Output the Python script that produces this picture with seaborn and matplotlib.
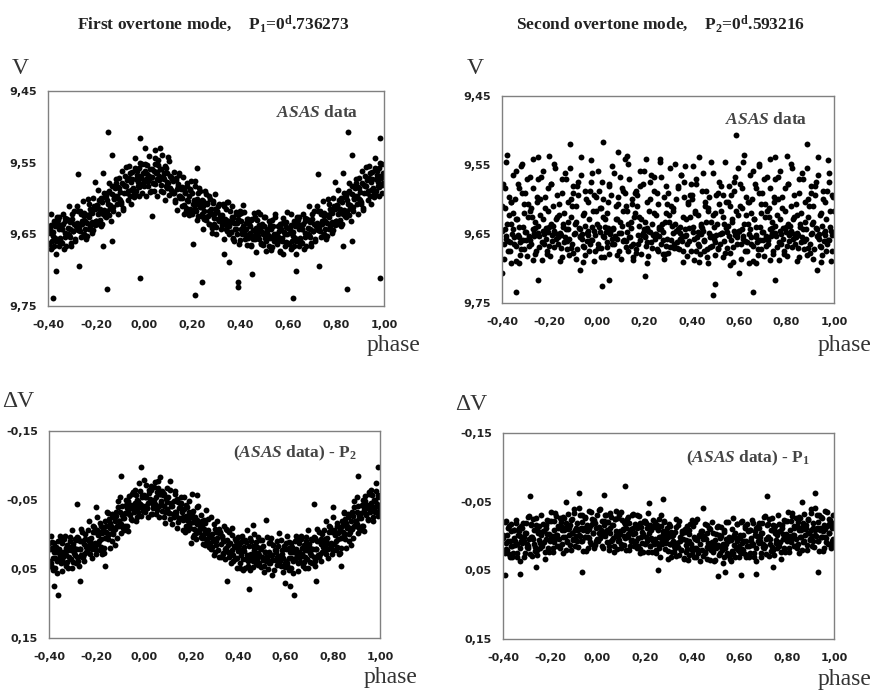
import numpy as np
import pandas as pd
import matplotlib
matplotlib.use('Agg')
import matplotlib.pyplot as plt
import seaborn as sns
from matplotlib.ticker import FuncFormatter, MultipleLocator

# phases of the observations (0..1); points at phase > 0.6 are repeated at phase-1
phase = [
    0.001, 0.005, 0.008, 0.012, 0.016, 0.019, 0.024, 0.027, 0.032, 0.036,
    0.041, 0.044, 0.048, 0.053, 0.056, 0.060, 0.064, 0.069, 0.072, 0.077,
    0.080, 0.085, 0.088, 0.092, 0.097, 0.100, 0.104, 0.109, 0.112, 0.117,
    0.121, 0.124, 0.129, 0.132, 0.137, 0.140, 0.145, 0.148, 0.152, 0.157,
    0.160, 0.165, 0.168, 0.173, 0.176, 0.181, 0.184, 0.188, 0.193, 0.197,
    0.201, 0.204, 0.209, 0.212, 0.216, 0.221, 0.224, 0.228, 0.233, 0.236,
    0.241, 0.245, 0.248, 0.252, 0.257, 0.260, 0.264, 0.269, 0.272, 0.277,
    0.280, 0.284, 0.289, 0.292, 0.297, 0.300, 0.305, 0.308, 0.312, 0.317,
    0.321, 0.324, 0.328, 0.333, 0.336, 0.341, 0.344, 0.349, 0.352, 0.356,
    0.361, 0.364, 0.368, 0.373, 0.376, 0.380, 0.385, 0.388, 0.393, 0.397,
    0.400, 0.404, 0.409, 0.412, 0.417, 0.420, 0.425, 0.428, 0.432, 0.437,
    0.441, 0.444, 0.448, 0.453, 0.456, 0.461, 0.464, 0.468, 0.473, 0.476,
    0.480, 0.485, 0.488, 0.492, 0.497, 0.500, 0.504, 0.509, 0.512, 0.516,
    0.521, 0.524, 0.529, 0.532, 0.536, 0.541, 0.544, 0.548, 0.553, 0.557,
    0.560, 0.565, 0.568, 0.572, 0.577, 0.580, 0.584, 0.589, 0.592, 0.597,
    0.601, 0.604, 0.608, 0.613, 0.616, 0.621, 0.624, 0.628, 0.633, 0.636,
    0.640, 0.645, 0.648, 0.652, 0.657, 0.660, 0.664, 0.669, 0.672, 0.677,
    0.681, 0.684, 0.688, 0.693, 0.696, 0.700, 0.705, 0.708, 0.712, 0.717,
    0.720, 0.724, 0.729, 0.732, 0.737, 0.740, 0.744, 0.749, 0.752, 0.756,
    0.761, 0.764, 0.768, 0.773, 0.776, 0.781, 0.784, 0.788, 0.793, 0.796,
    0.800, 0.805, 0.808, 0.812, 0.817, 0.820, 0.824, 0.829, 0.832, 0.837,
    0.841, 0.844, 0.848, 0.853, 0.856, 0.860, 0.865, 0.868, 0.872, 0.877,
    0.880, 0.884, 0.889, 0.892, 0.897, 0.901, 0.904, 0.908, 0.913, 0.916,
    0.920, 0.925, 0.928, 0.933, 0.936, 0.940, 0.945, 0.948, 0.952, 0.957,
    0.961, 0.964, 0.968, 0.972, 0.977, 0.980, 0.985, 0.988, 0.993, 0.997,
]
phase_b = [
    0.003, 0.006, 0.010, 0.014, 0.018, 0.021, 0.026, 0.030, 0.033, 0.038,
    0.042, 0.047, 0.051, 0.053, 0.057, 0.062, 0.065, 0.069, 0.074, 0.079,
    0.083, 0.086, 0.090, 0.094, 0.098, 0.101, 0.106, 0.110, 0.113, 0.118,
    0.122, 0.127, 0.131, 0.133, 0.137, 0.142, 0.145, 0.149, 0.154, 0.159,
    0.163, 0.166, 0.170, 0.174, 0.178, 0.181, 0.186, 0.190, 0.193, 0.198,
    0.202, 0.207, 0.211, 0.213, 0.217, 0.222, 0.225, 0.229, 0.234, 0.239,
    0.243, 0.246, 0.250, 0.254, 0.258, 0.261, 0.266, 0.270, 0.273, 0.278,
    0.282, 0.287, 0.291, 0.293, 0.297, 0.302, 0.305, 0.309, 0.314, 0.319,
    0.323, 0.326, 0.330, 0.334, 0.338, 0.341, 0.346, 0.350, 0.353, 0.358,
    0.362, 0.367, 0.371, 0.373, 0.377, 0.382, 0.385, 0.389, 0.394, 0.399,
    0.403, 0.406, 0.410, 0.414, 0.418, 0.421, 0.426, 0.430, 0.433, 0.438,
    0.442, 0.447, 0.451, 0.453, 0.457, 0.462, 0.465, 0.469, 0.474, 0.479,
    0.483, 0.486, 0.490, 0.494, 0.498, 0.501, 0.506, 0.510, 0.513, 0.518,
    0.522, 0.527, 0.531, 0.533, 0.537, 0.542, 0.545, 0.549, 0.554, 0.559,
    0.563, 0.566, 0.570, 0.574, 0.578, 0.581, 0.586, 0.590, 0.593, 0.598,
    0.602, 0.607, 0.611, 0.613, 0.617, 0.622, 0.625, 0.629, 0.634, 0.639,
    0.643, 0.646, 0.650, 0.654, 0.658, 0.661, 0.666, 0.670, 0.673, 0.678,
    0.682, 0.687, 0.691, 0.693, 0.697, 0.702, 0.705, 0.709, 0.714, 0.719,
    0.723, 0.726, 0.730, 0.734, 0.738, 0.741, 0.746, 0.750, 0.753, 0.758,
    0.762, 0.767, 0.771, 0.773, 0.777, 0.782, 0.785, 0.789, 0.794, 0.799,
    0.803, 0.806, 0.810, 0.814, 0.818, 0.821, 0.826, 0.830, 0.833, 0.838,
    0.842, 0.847, 0.851, 0.853, 0.857, 0.862, 0.865, 0.869, 0.874, 0.879,
    0.883, 0.886, 0.890, 0.894, 0.898, 0.901, 0.906, 0.910, 0.913, 0.918,
    0.922, 0.927, 0.931, 0.933, 0.937, 0.942, 0.945, 0.949, 0.954, 0.959,
    0.963, 0.966, 0.970, 0.974, 0.978, 0.981, 0.986, 0.990, 0.993, 0.998,
]

# top left: V, first overtone phase
v_first = [
    9.582, 9.562, 9.573, 9.553, 9.576, 9.568, 9.591, 9.559, 9.570, 9.579,
    9.561, 9.544, 9.580, 9.563, 9.573, 9.553, 9.568, 9.590, 9.559, 9.571,
    9.591, 9.573, 9.555, 9.582, 9.565, 9.578, 9.548, 9.585, 9.570, 9.589,
    9.576, 9.592, 9.605, 9.571, 9.587, 9.580, 9.596, 9.565, 9.599, 9.584,
    9.600, 9.622, 9.585, 9.593, 9.613, 9.579, 9.604, 9.596, 9.588, 9.617,
    9.592, 9.608, 9.615, 9.583, 9.617, 9.601, 9.624, 9.606, 9.590, 9.612,
    9.622, 9.603, 9.611, 9.629, 9.594, 9.626, 9.607, 9.618, 9.636, 9.601,
    9.621, 9.641, 9.606, 9.627, 9.614, 9.649, 9.618, 9.610, 9.632, 9.623,
    9.643, 9.623, 9.631, 9.610, 9.636, 9.615, 9.645, 9.632, 9.605, 9.638,
    9.633, 9.647, 9.626, 9.657, 9.634, 9.642, 9.619, 9.649, 9.629, 9.621,
    9.658, 9.631, 9.645, 9.639, 9.619, 9.650, 9.642, 9.628, 9.655, 9.636,
    9.638, 9.667, 9.630, 9.652, 9.644, 9.626, 9.656, 9.641, 9.650, 9.619,
    9.656, 9.644, 9.663, 9.635, 9.650, 9.639, 9.626, 9.660, 9.645, 9.654,
    9.632, 9.655, 9.643, 9.668, 9.638, 9.649, 9.657, 9.626, 9.651, 9.660,
    9.654, 9.636, 9.673, 9.643, 9.660, 9.634, 9.647, 9.667, 9.640, 9.649,
    9.641, 9.664, 9.648, 9.637, 9.668, 9.652, 9.631, 9.655, 9.660, 9.626,
    9.659, 9.642, 9.626, 9.655, 9.643, 9.662, 9.636, 9.648, 9.632, 9.667,
    9.628, 9.641, 9.651, 9.633, 9.662, 9.621, 9.645, 9.635, 9.657, 9.639,
    9.640, 9.617, 9.637, 9.646, 9.622, 9.631, 9.653, 9.625, 9.620, 9.643,
    9.623, 9.634, 9.601, 9.626, 9.639, 9.619, 9.633, 9.644, 9.610, 9.615,
    9.632, 9.609, 9.622, 9.602, 9.615, 9.639, 9.605, 9.621, 9.616, 9.598,
    9.596, 9.617, 9.602, 9.623, 9.589, 9.609, 9.583, 9.615, 9.612, 9.600,
    9.596, 9.573, 9.607, 9.584, 9.601, 9.591, 9.605, 9.579, 9.613, 9.581,
    9.569, 9.583, 9.574, 9.590, 9.555, 9.597, 9.577, 9.588, 9.563, 9.594,
    9.592, 9.557, 9.573, 9.562, 9.577, 9.584, 9.551, 9.568, 9.581, 9.565,
]
v_first_b = [
    9.552, 9.576, 9.597, 9.566, 9.583, 9.541, 9.572, 9.589, 9.559, 9.579,
    9.589, 9.552, 9.564, 9.597, 9.546, 9.574, 9.559, 9.581, 9.540, 9.570,
    9.565, 9.602, 9.557, 9.577, 9.585, 9.542, 9.595, 9.569, 9.588, 9.573,
    9.593, 9.563, 9.602, 9.574, 9.616, 9.583, 9.567, 9.596, 9.587, 9.611,
    9.570, 9.609, 9.591, 9.617, 9.582, 9.602, 9.623, 9.587, 9.614, 9.575,
    9.621, 9.602, 9.576, 9.615, 9.608, 9.630, 9.593, 9.585, 9.612, 9.624,
    9.602, 9.643, 9.618, 9.589, 9.630, 9.606, 9.625, 9.636, 9.597, 9.615,
    9.648, 9.603, 9.635, 9.622, 9.594, 9.640, 9.619, 9.629, 9.608, 9.632,
    9.624, 9.637, 9.608, 9.656, 9.628, 9.643, 9.605, 9.632, 9.649, 9.618,
    9.647, 9.610, 9.655, 9.627, 9.659, 9.621, 9.642, 9.634, 9.664, 9.618,
    9.620, 9.643, 9.650, 9.609, 9.647, 9.657, 9.634, 9.665, 9.628, 9.653,
    9.648, 9.665, 9.628, 9.656, 9.620, 9.645, 9.674, 9.630, 9.652, 9.637,
    9.621, 9.662, 9.647, 9.638, 9.665, 9.626, 9.655, 9.673, 9.643, 9.651,
    9.666, 9.637, 9.672, 9.630, 9.653, 9.659, 9.621, 9.650, 9.663, 9.639,
    9.646, 9.674, 9.636, 9.655, 9.627, 9.677, 9.649, 9.633, 9.661, 9.619,
    9.662, 9.642, 9.671, 9.621, 9.659, 9.647, 9.666, 9.639, 9.678, 9.634,
    9.630, 9.666, 9.637, 9.661, 9.642, 9.621, 9.670, 9.654, 9.627, 9.649,
    9.649, 9.610, 9.654, 9.642, 9.666, 9.628, 9.645, 9.617, 9.659, 9.634,
    9.611, 9.644, 9.640, 9.618, 9.654, 9.636, 9.604, 9.649, 9.632, 9.657,
    9.653, 9.623, 9.607, 9.642, 9.615, 9.648, 9.620, 9.599, 9.637, 9.631,
    9.609, 9.635, 9.588, 9.620, 9.630, 9.599, 9.636, 9.617, 9.593, 9.625,
    9.626, 9.592, 9.608, 9.578, 9.613, 9.631, 9.594, 9.618, 9.601, 9.586,
    9.578, 9.597, 9.621, 9.586, 9.571, 9.602, 9.607, 9.561, 9.616, 9.592,
    9.582, 9.556, 9.592, 9.602, 9.571, 9.564, 9.607, 9.573, 9.586, 9.598,
    9.543, 9.589, 9.567, 9.583, 9.597, 9.558, 9.571, 9.592, 9.552, 9.579,
]
out1_phase = [0.849, 0.620, 0.982, 0.982, 0.212, 0.240, 0.390, 0.391, 0.451, 0.844,
              0.730, 0.633, 0.206, 0.032, 0.727, 0.830, 0.795, 0.004, 0.046, 0.068,
              0.868, 0.831, 0.865, 0.220, 0.335, 0.355]
out1_v = [9.507, 9.739, 9.516, 9.711, 9.735, 9.716, 9.717, 9.724, 9.705, 9.727,
          9.694, 9.701, 9.664, 9.625, 9.566, 9.564, 9.577, 9.530, 9.532, 9.530,
          9.539, 9.667, 9.660, 9.558, 9.678, 9.688]

# top right: V, second overtone phase
v_second = [
    9.635, 9.670, 9.587, 9.647, 9.612, 9.684, 9.625, 9.600, 9.655, 9.640,
    9.662, 9.619, 9.641, 9.577, 9.650, 9.593, 9.665, 9.643, 9.561, 9.653,
    9.628, 9.657, 9.606, 9.674, 9.632, 9.648, 9.584, 9.660, 9.616, 9.590,
    9.669, 9.609, 9.647, 9.635, 9.571, 9.655, 9.641, 9.600, 9.664, 9.625,
    9.619, 9.677, 9.593, 9.652, 9.638, 9.580, 9.658, 9.628, 9.648, 9.558,
    9.655, 9.632, 9.667, 9.603, 9.645, 9.616, 9.574, 9.662, 9.635, 9.652,
    9.587, 9.650, 9.622, 9.672, 9.606, 9.640, 9.653, 9.568, 9.643, 9.658,
    9.647, 9.596, 9.679, 9.619, 9.657, 9.590, 9.632, 9.669, 9.609, 9.638,
    9.612, 9.664, 9.635, 9.600, 9.670, 9.643, 9.580, 9.648, 9.657, 9.564,
    9.660, 9.625, 9.574, 9.653, 9.628, 9.665, 9.606, 9.641, 9.593, 9.674,
    9.600, 9.640, 9.657, 9.616, 9.675, 9.577, 9.647, 9.622, 9.667, 9.635,
    9.650, 9.587, 9.645, 9.660, 9.603, 9.632, 9.672, 9.612, 9.596, 9.655,
    9.632, 9.653, 9.561, 9.640, 9.662, 9.619, 9.652, 9.670, 9.590, 9.606,
    9.665, 9.616, 9.648, 9.593, 9.635, 9.677, 9.603, 9.647, 9.638, 9.580,
    9.609, 9.658, 9.628, 9.669, 9.587, 9.645, 9.568, 9.655, 9.650, 9.622,
    9.645, 9.577, 9.664, 9.612, 9.653, 9.635, 9.660, 9.596, 9.674, 9.603,
    9.603, 9.643, 9.619, 9.655, 9.558, 9.667, 9.628, 9.652, 9.584, 9.662,
    9.672, 9.590, 9.640, 9.606, 9.647, 9.658, 9.571, 9.625, 9.653, 9.616,
    9.658, 9.612, 9.643, 9.584, 9.648, 9.632, 9.674, 9.603, 9.638, 9.653,
    9.622, 9.568, 9.662, 9.628, 9.650, 9.596, 9.641, 9.679, 9.616, 9.647,
    9.667, 9.635, 9.577, 9.652, 9.609, 9.645, 9.555, 9.657, 9.625, 9.664,
    9.606, 9.648, 9.670, 9.590, 9.640, 9.619, 9.655, 9.571, 9.660, 9.632,
    9.643, 9.681, 9.600, 9.625, 9.665, 9.580, 9.650, 9.635, 9.609, 9.672,
    9.593, 9.641, 9.653, 9.564, 9.657, 9.622, 9.669, 9.638, 9.587, 9.648,
    9.652, 9.603, 9.628, 9.664, 9.574, 9.658, 9.616, 9.645, 9.675, 9.596,
]
v_second_b = [
    9.558, 9.665, 9.640, 9.612, 9.670, 9.574, 9.653, 9.684, 9.628, 9.647,
    9.669, 9.603, 9.679, 9.580, 9.647, 9.657, 9.552, 9.641, 9.664, 9.609,
    9.628, 9.681, 9.596, 9.648, 9.568, 9.686, 9.638, 9.587, 9.658, 9.542,
    9.660, 9.616, 9.675, 9.548, 9.655, 9.632, 9.667, 9.606, 9.687, 9.590,
    9.587, 9.672, 9.609, 9.664, 9.625, 9.558, 9.679, 9.652, 9.577, 9.643,
    9.653, 9.542, 9.662, 9.641, 9.682, 9.600, 9.647, 9.564, 9.670, 9.619,
    9.568, 9.657, 9.650, 9.590, 9.674, 9.643, 9.545, 9.665, 9.635, 9.679,
    9.686, 9.632, 9.580, 9.667, 9.606, 9.677, 9.622, 9.555, 9.658, 9.648,
    9.616, 9.670, 9.548, 9.645, 9.662, 9.584, 9.672, 9.640, 9.564, 9.653,
    9.674, 9.596, 9.643, 9.552, 9.652, 9.682, 9.603, 9.660, 9.625, 9.577,
    9.593, 9.647, 9.687, 9.619, 9.571, 9.655, 9.664, 9.539, 9.679, 9.638,
    9.641, 9.561, 9.658, 9.675, 9.609, 9.587, 9.684, 9.616, 9.648, 9.669,
    9.545, 9.667, 9.622, 9.657, 9.681, 9.593, 9.635, 9.672, 9.574, 9.650,
    9.580, 9.648, 9.684, 9.625, 9.660, 9.545, 9.641, 9.670, 9.603, 9.653,
    9.677, 9.593, 9.632, 9.691, 9.574, 9.652, 9.616, 9.664, 9.555, 9.645,
    9.609, 9.686, 9.584, 9.643, 9.657, 9.536, 9.674, 9.622, 9.662, 9.635,
    9.650, 9.564, 9.665, 9.600, 9.689, 9.628, 9.577, 9.655, 9.640, 9.681,
    9.552, 9.658, 9.619, 9.672, 9.590, 9.647, 9.682, 9.606, 9.667, 9.568,
    9.664, 9.625, 9.542, 9.653, 9.641, 9.679, 9.596, 9.571, 9.648, 9.669,
    9.600, 9.687, 9.645, 9.558, 9.665, 9.612, 9.657, 9.675, 9.584, 9.640,
    9.682, 9.577, 9.660, 9.638, 9.548, 9.669, 9.628, 9.650, 9.593, 9.655,
    9.622, 9.652, 9.571, 9.684, 9.635, 9.662, 9.561, 9.643, 9.672, 9.603,
    9.657, 9.555, 9.670, 9.609, 9.677, 9.590, 9.648, 9.632, 9.686, 9.580,
    9.574, 9.643, 9.655, 9.539, 9.650, 9.667, 9.619, 9.681, 9.600, 9.660,
    9.645, 9.674, 9.587, 9.658, 9.561, 9.640, 9.689, 9.593, 9.652, 9.616,
]
out2_phase = [0.587, 0.885, 0.027, 0.659, 0.750, 0.023, 0.051, 0.203, 0.491, 0.498,
              0.601, 0.927, 0.670, 0.753, 0.800, 0.126, 0.090, 0.266, 0.407, 0.618,
              0.685, 0.976, 0.943, 0.210, 0.365, 0.432, 0.470, 0.561, 0.730, 0.843,
              0.154, 0.640]
out2_v = [9.506, 9.520, 9.516, 9.734, 9.716, 9.726, 9.716, 9.711, 9.739, 9.723,
          9.706, 9.702, 9.692, 9.538, 9.537, 9.537, 9.531, 9.541, 9.552, 9.545,
          9.548, 9.543, 9.690, 9.692, 9.690, 9.690, 9.692, 9.695, 9.687, 9.689,
          9.683, 9.692]

# bottom left: (ASAS data) - P2, first overtone phase
dv_first = [
    -0.057, -0.041, -0.054, -0.071, -0.038, -0.045, -0.060, -0.049, -0.065, -0.030,
    -0.038, -0.069, -0.044, -0.055, -0.035, -0.077, -0.042, -0.058, -0.049, -0.063,
    -0.057, -0.025, -0.059, -0.033, -0.047, -0.037, -0.054, -0.031, -0.065, -0.042,
    -0.041, -0.029, -0.026, -0.058, -0.032, -0.052, -0.018, -0.039, -0.024, -0.045,
    -0.044, -0.026, -0.021, -0.037, -0.003, -0.027, -0.040, -0.020, -0.033, -0.010,
    -0.026, -0.031, 0.003, -0.008, -0.022, -0.002, -0.015, -0.040, -0.007, -0.018,
    0.004, -0.019, -0.014, 0.014, -0.008, -0.017, 0.007, -0.002, -0.022, 0.001,
    0.003, 0.021, -0.001, 0.009, -0.015, 0.026, -0.003, 0.015, 0.005, -0.008,
    0.033, -0.002, 0.014, 0.002, 0.028, 0.009, 0.021, -0.008, 0.008, 0.025,
    -0.004, 0.030, 0.025, 0.001, 0.022, 0.038, 0.007, 0.018, 0.034, 0.011,
    0.024, 0.015, 0.042, 0.022, 0.009, 0.035, 0.018, 0.048, 0.011, 0.029,
    0.039, 0.030, 0.005, 0.036, 0.028, 0.017, 0.047, 0.022, 0.034, 0.011,
    0.036, 0.027, 0.042, 0.008, 0.021, 0.032, 0.017, 0.045, 0.026, 0.038,
    0.004, 0.035, 0.026, 0.041, 0.011, 0.029, 0.037, 0.015, 0.052, 0.023,
    0.025, 0.044, 0.017, 0.031, 0.039, 0.008, 0.028, 0.034, 0.020, 0.047,
    0.013, 0.021, 0.041, 0.011, 0.034, 0.026, 0.049, 0.018, 0.039, 0.025,
    0.035, 0.002, 0.029, 0.042, 0.012, 0.033, 0.007, 0.028, 0.020, 0.040,
    0.023, 0.032, 0.010, 0.018, 0.049, 0.014, 0.027, 0.006, 0.041, 0.021,
    0.004, 0.039, 0.021, 0.010, 0.029, -0.003, 0.032, 0.014, 0.006, 0.025,
    0.016, -0.006, 0.010, 0.028, 0.005, 0.021, -0.013, 0.019, 0.012, -0.004,
    0.022, -0.007, 0.001, 0.009, -0.016, 0.018, -0.002, -0.010, 0.027, 0.005,
    -0.012, 0.003, -0.031, 0.000, -0.016, -0.009, -0.025, 0.009, -0.004, -0.020,
    -0.008, -0.027, -0.012, -0.049, -0.019, -0.032, -0.015, -0.042, -0.024, -0.006,
    -0.031, -0.043, -0.012, -0.034, -0.049, -0.029, -0.039, -0.022, -0.058, -0.041,
    -0.037, -0.046, -0.057, -0.025, -0.048, -0.040, -0.063, -0.043, -0.054, -0.034,
]
dv_first_b = [
    -0.079, -0.033, -0.055, -0.039, -0.025, -0.064, -0.051, -0.030, -0.070, -0.043,
    -0.050, -0.076, -0.040, -0.030, -0.061, -0.068, -0.025, -0.059, -0.046, -0.034,
    -0.060, -0.041, -0.017, -0.052, -0.067, -0.036, -0.031, -0.077, -0.022, -0.046,
    -0.015, -0.049, -0.033, -0.063, -0.028, -0.010, -0.047, -0.023, -0.040, -0.055,
    -0.033, -0.007, -0.054, -0.022, -0.012, -0.043, -0.006, -0.025, -0.049, -0.017,
    0.012, -0.018, -0.034, 0.001, -0.026, 0.007, -0.021, -0.042, -0.004, -0.010,
    -0.028, 0.005, 0.001, -0.021, 0.015, -0.003, -0.035, 0.010, -0.007, 0.018,
    0.013, -0.026, 0.018, 0.006, 0.030, -0.008, 0.009, -0.019, 0.023, -0.002,
    -0.004, 0.032, 0.003, 0.027, 0.008, -0.013, 0.036, 0.020, -0.007, 0.015,
    0.032, 0.012, 0.041, -0.009, 0.029, 0.017, 0.036, 0.009, 0.048, 0.004,
    0.021, 0.049, 0.011, 0.030, 0.002, 0.052, 0.024, 0.008, 0.036, -0.006,
    0.045, 0.016, 0.051, 0.009, 0.032, 0.038, 0.000, 0.029, 0.042, 0.018,
    0.003, 0.044, 0.029, 0.020, 0.047, 0.008, 0.037, 0.055, 0.025, 0.033,
    0.033, 0.050, 0.013, 0.041, 0.005, 0.030, 0.059, 0.015, 0.037, 0.022,
    0.009, 0.032, 0.039, -0.002, 0.036, 0.046, 0.023, 0.054, 0.017, 0.042,
    0.039, 0.002, 0.047, 0.019, 0.051, 0.013, 0.034, 0.026, 0.056, 0.010,
    0.021, 0.034, 0.005, 0.053, 0.025, 0.040, 0.002, 0.029, 0.046, 0.015,
    0.048, 0.003, 0.035, 0.022, -0.006, 0.040, 0.019, 0.029, 0.008, 0.032,
    0.005, 0.046, 0.021, -0.008, 0.033, 0.009, 0.028, 0.039, 0.000, 0.018,
    0.025, 0.006, -0.020, 0.019, 0.012, 0.034, -0.003, -0.011, 0.016, 0.028,
    -0.025, 0.014, -0.004, 0.022, -0.013, 0.007, 0.028, -0.008, 0.019, -0.020,
    -0.003, -0.033, 0.006, -0.022, 0.020, -0.013, -0.029, 0.000, -0.009, 0.015,
    -0.032, 0.005, -0.040, -0.020, -0.012, -0.055, -0.002, -0.028, -0.009, -0.024,
    -0.013, -0.050, -0.038, -0.005, -0.056, -0.028, -0.043, -0.021, -0.062, -0.032,
    -0.064, -0.040, -0.019, -0.050, -0.033, -0.075, -0.044, -0.027, -0.057, -0.037,
]
out3_phase = [0.638, 0.730, 0.447, 0.991, 0.906, 0.068, 0.719, 0.203, 0.224, 0.351,
              0.836, 0.800, 0.598, 0.619, 0.516, 0.464]
out3_dv = [0.087, 0.068, 0.079, -0.098, -0.085, -0.084, -0.044, -0.058, -0.057, 0.068,
           0.046, -0.040, 0.070, 0.075, -0.021, -0.014]

# bottom right: (ASAS data) - P1, second overtone phase
dv_second = [
    0.007, -0.005, -0.038, 0.003, -0.008, -0.022, 0.017, -0.016, 0.000, -0.030,
    -0.008, -0.020, 0.015, -0.011, -0.028, 0.006, -0.016, 0.023, -0.025, -0.001,
    -0.037, 0.007, 0.001, -0.030, -0.003, 0.018, -0.023, -0.008, 0.013, -0.017,
    0.021, -0.024, -0.003, -0.019, 0.015, -0.010, 0.006, -0.032, -0.011, 0.011,
    -0.005, 0.018, -0.011, 0.003, -0.029, 0.025, -0.013, 0.010, -0.003, -0.020,
    0.011, -0.019, -0.012, 0.024, -0.005, -0.016, 0.015, 0.003, -0.023, 0.007,
    -0.013, -0.020, 0.025, 0.010, -0.008, 0.018, 0.001, -0.031, 0.012, -0.003,
    -0.020, 0.003, 0.010, -0.011, 0.033, 0.002, -0.015, 0.011, -0.006, 0.024,
    -0.002, 0.014, 0.018, -0.024, 0.010, -0.016, 0.028, 0.001, 0.021, -0.007,
    -0.007, 0.034, -0.010, 0.024, 0.006, 0.019, -0.003, 0.027, -0.018, 0.012,
    0.026, -0.014, 0.018, 0.004, 0.030, -0.025, 0.021, 0.000, 0.012, -0.006,
    0.000, 0.021, 0.004, -0.018, 0.025, 0.016, -0.004, 0.010, -0.011, 0.035,
    0.021, 0.009, -0.005, 0.036, 0.006, 0.017, -0.013, 0.013, -0.001, 0.025,
    0.016, 0.000, 0.040, 0.012, -0.008, 0.018, 0.005, 0.027, -0.020, 0.002,
    0.028, 0.003, 0.022, -0.026, 0.013, -0.004, 0.018, -0.017, 0.007, 0.030,
    0.003, 0.023, -0.021, 0.019, -0.002, 0.007, -0.014, 0.031, 0.014, -0.007,
    0.030, -0.008, 0.003, 0.013, -0.019, 0.025, -0.001, -0.012, 0.037, 0.008,
    0.010, -0.019, 0.002, 0.025, -0.005, 0.016, -0.028, 0.014, 0.005, -0.016,
    -0.017, 0.029, 0.005, -0.009, 0.016, -0.026, 0.020, -0.004, -0.014, 0.010,
    -0.001, 0.011, -0.018, -0.007, 0.033, -0.012, 0.005, -0.023, 0.023, -0.003,
    0.008, -0.035, 0.000, 0.017, -0.022, 0.005, -0.029, -0.001, -0.012, 0.014,
    -0.026, -0.015, 0.011, -0.028, 0.002, -0.009, 0.021, -0.019, 0.008, -0.010,
    -0.012, 0.013, -0.023, -0.004, 0.006, -0.034, -0.008, 0.000, -0.019, 0.016,
    -0.041, 0.000, -0.012, 0.008, -0.031, -0.008, 0.002, -0.026, 0.022, -0.016,
    0.001, -0.010, 0.009, -0.035, -0.018, -0.004, -0.023, 0.013, -0.012, 0.004,
]
dv_second_b = [
    0.006, -0.013, -0.039, 0.000, -0.007, 0.015, -0.022, -0.030, -0.003, 0.009,
    -0.020, 0.021, -0.004, -0.033, 0.008, -0.016, 0.003, 0.014, -0.025, -0.007,
    0.019, -0.026, 0.006, -0.007, -0.035, 0.011, -0.010, 0.000, -0.021, 0.003,
    -0.011, 0.002, -0.027, 0.021, -0.007, 0.008, -0.030, -0.003, 0.014, -0.017,
    0.007, -0.030, 0.015, -0.013, 0.019, -0.019, 0.002, -0.006, 0.024, -0.022,
    -0.022, 0.001, 0.008, -0.033, 0.005, 0.015, -0.008, 0.023, -0.014, 0.011,
    0.004, 0.021, -0.016, 0.012, -0.024, 0.001, 0.030, -0.014, 0.008, -0.007,
    -0.022, 0.019, 0.004, -0.005, 0.022, -0.017, 0.012, 0.030, 0.000, 0.008,
    0.023, -0.006, 0.029, -0.013, 0.010, 0.016, -0.022, 0.007, 0.020, -0.004,
    0.004, 0.032, -0.006, 0.013, -0.015, 0.035, 0.007, -0.009, 0.019, -0.023,
    0.021, 0.001, 0.030, -0.020, 0.018, 0.006, 0.025, -0.002, 0.037, -0.007,
    -0.007, 0.029, 0.000, 0.024, 0.005, -0.016, 0.033, 0.017, -0.010, 0.012,
    0.018, -0.021, 0.023, 0.011, 0.035, -0.003, 0.014, -0.014, 0.028, 0.003,
    -0.013, 0.020, 0.016, -0.006, 0.030, 0.012, -0.020, 0.025, 0.008, 0.033,
    0.036, 0.006, -0.010, 0.025, -0.002, 0.031, 0.003, -0.018, 0.020, 0.014,
    -0.001, 0.025, -0.022, 0.010, 0.020, -0.011, 0.026, 0.007, -0.017, 0.015,
    0.025, -0.009, 0.007, -0.023, 0.012, 0.030, -0.007, 0.017, 0.000, -0.015,
    -0.012, 0.007, 0.031, -0.004, -0.019, 0.012, 0.017, -0.029, 0.026, 0.002,
    0.002, -0.024, 0.012, 0.022, -0.009, -0.016, 0.027, -0.007, 0.006, 0.018,
    -0.031, 0.015, -0.007, 0.009, 0.023, -0.016, -0.003, 0.018, -0.022, 0.005,
    -0.022, 0.002, 0.023, -0.008, 0.009, -0.033, -0.002, 0.015, -0.015, 0.005,
    0.017, -0.020, -0.008, 0.025, -0.026, 0.002, -0.013, 0.009, -0.032, -0.002,
    -0.016, 0.021, -0.024, -0.004, 0.004, -0.039, 0.014, -0.012, 0.007, -0.008,
    -0.001, -0.031, 0.008, -0.020, 0.022, -0.011, -0.027, 0.002, -0.007, 0.017,
    -0.036, 0.003, -0.015, 0.011, -0.024, -0.004, 0.017, -0.019, 0.008, -0.031,
]
out4_phase = [0.115, 0.922, 0.715, 0.027, 0.608, 0.670, 0.509, 0.934, 0.256, 0.741,
              0.277, 0.216, 0.446, 0.540, 0.865]
out4_dv = [-0.073, -0.062, -0.058, -0.059, 0.057, 0.055, 0.059, 0.052, 0.049, 0.045,
           -0.054, -0.048, -0.041, 0.052, -0.050]

x_ticks = [-0.4, -0.2, 0.0, 0.2, 0.4, 0.6, 0.8, 1.0]
v_ticks = [9.45, 9.55, 9.65, 9.75]
dv_ticks = [-0.15, -0.05, 0.05, 0.15]

titles = [r"First overtone mode,    P$_\mathbf{1}$=0$^\mathbf{d}$.736273",
          r"Second overtone mode,    P$_\mathbf{2}$=0$^\mathbf{d}$.593216"]
notes = [r"$\mathbfit{ASAS}$ data", r"$\mathbfit{ASAS}$ data",
         r"($\mathbfit{ASAS}$ data) - P$_\mathbf{2}$", r"($\mathbfit{ASAS}$ data) - P$_\mathbf{1}$"]

sns.set_style("white")
plt.rcParams['font.family'] = ['DejaVu Sans']
plt.rcParams['mathtext.fontset'] = 'custom'
plt.rcParams['mathtext.rm'] = 'Liberation Serif'
plt.rcParams['mathtext.it'] = 'Liberation Serif:italic'
plt.rcParams['mathtext.bf'] = 'Liberation Serif:bold'
plt.rcParams['mathtext.bfit'] = 'Liberation Serif:italic:bold'


def fold(values, values_b, ph_out, val_out):
    ph = np.concatenate([phase, phase_b, ph_out])
    val = np.concatenate([values, values_b, val_out])
    wrap = ph - 1.0 >= -0.4
    return pd.DataFrame({'phase': np.concatenate([ph, ph[wrap] - 1.0]),
                         'mag': np.concatenate([val, val[wrap]])})


def comma(v, pos):
    s = f"{v:.2f}"
    if s == "-0.00":
        s = "0.00"
    return s.replace('.', ',')


frames = [fold(v_first, v_first_b, out1_phase, out1_v),
          fold(v_second, v_second_b, out2_phase, out2_v),
          fold(dv_first, dv_first_b, out3_phase, out3_dv),
          fold(dv_second, dv_second_b, out4_phase, out4_dv)]

rects = [[0.0547, 0.5572, 0.3831, 0.3111],
         [0.5724, 0.5615, 0.3786, 0.2996],
         [0.0559, 0.0767, 0.3774, 0.2996],
         [0.5735, 0.0753, 0.3774, 0.2981]]
note_pos = [(0.80, 0.898), (0.795, 0.884), (0.743, 0.894), (0.74, 0.879)]

fig = plt.figure(figsize=(8.77, 6.91), dpi=100)

for i, (rect, df) in enumerate(zip(rects, frames)):
    ax = fig.add_axes(rect)
    sns.scatterplot(data=df, x='phase', y='mag', ax=ax, color='black', s=18,
                    linewidth=0, legend=False)
    ax.set_xlim(-0.4, 1.0)
    if i < 2:
        ax.set_ylim(9.75, 9.45)
        ax.set_yticks(v_ticks)
    else:
        ax.set_ylim(0.15, -0.15)
        ax.set_yticks(dv_ticks)
    ax.set_xticks(x_ticks)
    ax.xaxis.set_minor_locator(MultipleLocator(0.1))
    ax.yaxis.set_minor_locator(MultipleLocator(0.05))
    ax.xaxis.set_major_formatter(FuncFormatter(comma))
    ax.yaxis.set_major_formatter(FuncFormatter(comma))
    ax.set_xlabel('')
    ax.set_ylabel('')
    ax.tick_params(which='both', direction='in', length=3, width=0.8, color='#a0a0a0')
    ax.tick_params(axis='x', which='major', pad=10)
    ax.tick_params(axis='y', which='major', pad=8)
    for lab in ax.get_xticklabels() + ax.get_yticklabels():
        lab.set_fontweight('bold')
        lab.set_fontsize(8)
        lab.set_color('#222222')
    for sp in ax.spines.values():
        sp.set_visible(True)
        sp.set_color('#808080')
        sp.set_linewidth(1.0)
    ax.text(note_pos[i][0], note_pos[i][1], notes[i], transform=ax.transAxes,
            ha='center', va='center', fontsize=12.5, color='#444444',
            family='Liberation Serif', fontweight='bold')

# titles
fig.text(213 / 877, 1 - 23 / 691, titles[0], ha='center', va='center', fontsize=12.5,
         family='Liberation Serif', fontweight='bold', color='#222222')
fig.text(661 / 877, 1 - 23 / 691, titles[1], ha='center', va='center', fontsize=12.5,
         family='Liberation Serif', fontweight='bold', color='#222222')

# axis names
lab_kw = dict(ha='center', va='center', fontsize=17, family='Liberation Serif', color='#333333')
fig.text(20 / 877, 1 - 68 / 691, 'V', **lab_kw)
fig.text(475 / 877, 1 - 68 / 691, 'V', **lab_kw)
fig.text(18 / 877, 1 - 402 / 691, 'ΔV', **lab_kw)
fig.text(471 / 877, 1 - 405 / 691, 'ΔV', **lab_kw)
fig.text(394 / 877, 1 - 345 / 691, 'phase', **lab_kw)
fig.text(845 / 877, 1 - 345 / 691, 'phase', **lab_kw)
fig.text(391 / 877, 1 - 678 / 691, 'phase', **lab_kw)
fig.text(845 / 877, 1 - 680 / 691, 'phase', **lab_kw)

fig.savefig('out.png', dpi=100)
